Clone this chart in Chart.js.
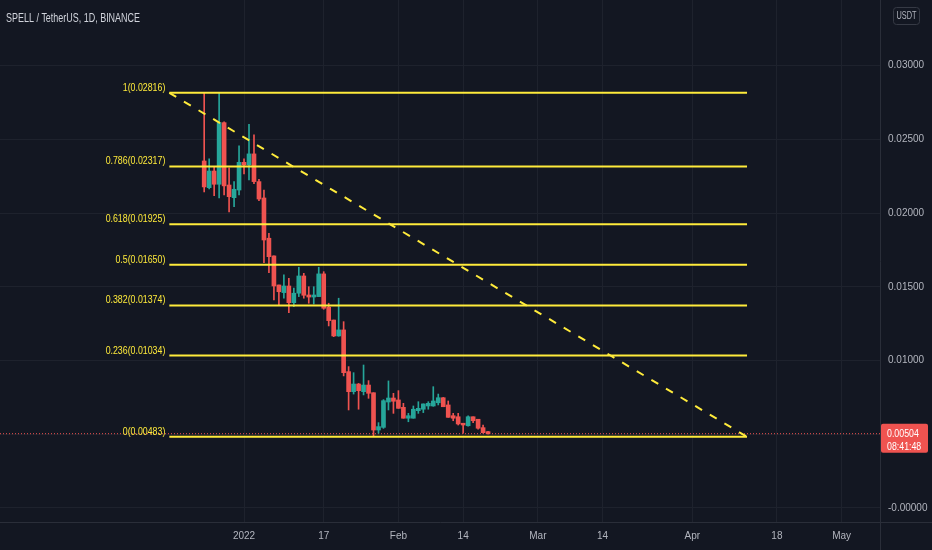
<!DOCTYPE html>
<html>
<head>
<meta charset="utf-8">
<title>SPELL / TetherUS</title>
<script src="https://cdn.jsdelivr.net/npm/chart.js@4.4.0/dist/chart.umd.min.js"></script>
<style>
html, body { margin: 0; padding: 0; background: #131722; }
#wrap { width: 932px; height: 550px; }
</style>
</head>
<body>
<div id="wrap"><canvas id="c" width="932" height="550"></canvas></div>
<script>
// SPELL / TetherUS daily candles (BINANCE), from 24 Dec 2021
var firstDate = '2021-12-24';

var openP  = [0.02354, 0.02173, 0.02286, 0.02196, 0.02614, 0.02191, 0.02105, 0.02157, 0.02345, 0.02327,
              0.02402, 0.02214, 0.02103, 0.01830, 0.01710, 0.01513, 0.01461, 0.01506, 0.01393, 0.01457,
              0.01574, 0.01445, 0.01431, 0.01434, 0.01588, 0.01362, 0.01275, 0.01167, 0.01208, 0.00925,
              0.00789, 0.00841, 0.00789, 0.00834, 0.00782, 0.00529, 0.00547, 0.00719, 0.00746, 0.00733,
              0.00683, 0.00609, 0.00609, 0.00660, 0.00670, 0.00692, 0.00692, 0.00714, 0.00748, 0.00699,
              0.00626, 0.00619, 0.00575, 0.00558, 0.00619, 0.00602, 0.00545, 0.00518];
var highP  = [0.02816, 0.02368, 0.02315, 0.02816, 0.02619, 0.02307, 0.02214, 0.02456, 0.02368, 0.02603,
              0.02531, 0.02230, 0.02157, 0.01864, 0.01710, 0.01513, 0.01581, 0.01558, 0.01491, 0.01633,
              0.01592, 0.01501, 0.01501, 0.01633, 0.01603, 0.01389, 0.01275, 0.01423, 0.01264, 0.00959,
              0.00918, 0.00845, 0.00970, 0.00864, 0.00782, 0.00579, 0.00735, 0.00862, 0.00778, 0.00796,
              0.00710, 0.00642, 0.00692, 0.00721, 0.00706, 0.00721, 0.00823, 0.00773, 0.00750, 0.00726,
              0.00642, 0.00642, 0.00575, 0.00625, 0.00619, 0.00602, 0.00563, 0.00520];
var lowP   = [0.02144, 0.02164, 0.02119, 0.02103, 0.02123, 0.02008, 0.02044, 0.02123, 0.02266, 0.02225,
              0.02200, 0.02085, 0.01664, 0.01596, 0.01411, 0.01377, 0.01423, 0.01325, 0.01366, 0.01434,
              0.01423, 0.01389, 0.01384, 0.01434, 0.01348, 0.01235, 0.01162, 0.01165, 0.00896, 0.00665,
              0.00773, 0.00670, 0.00767, 0.00744, 0.00488, 0.00507, 0.00540, 0.00665, 0.00642, 0.00676,
              0.00609, 0.00585, 0.00609, 0.00642, 0.00647, 0.00670, 0.00690, 0.00699, 0.00687, 0.00615,
              0.00592, 0.00563, 0.00507, 0.00555, 0.00579, 0.00534, 0.00507, 0.00500];
var closeP = [0.02178, 0.02286, 0.02196, 0.02614, 0.02185, 0.02112, 0.02162, 0.02345, 0.02327, 0.02402,
              0.02214, 0.02096, 0.01818, 0.01705, 0.01506, 0.01467, 0.01506, 0.01393, 0.01457, 0.01574,
              0.01443, 0.01431, 0.01445, 0.01588, 0.01355, 0.01271, 0.01167, 0.01208, 0.00918, 0.00789,
              0.00841, 0.00796, 0.00834, 0.00778, 0.00529, 0.00552, 0.00728, 0.00746, 0.00724, 0.00676,
              0.00609, 0.00626, 0.00670, 0.00676, 0.00706, 0.00710, 0.00726, 0.00748, 0.00687, 0.00615,
              0.00609, 0.00570, 0.00563, 0.00619, 0.00592, 0.00541, 0.00511, 0.00504];

// Axe du temps
var tickDates  = ['2022-01-01', '2022-01-17', '2022-02-01', '2022-02-14', '2022-03-01',
                  '2022-03-14', '2022-04-01', '2022-04-18', '2022-05-01'];
var tickLabels = ['2022', '17', 'Feb', '14', 'Mar', '14', 'Apr', '18', 'May'];
var viewStart = '2021-11-13';
var viewEnd   = '2022-05-08';

// Axe des prix
var priceTicks = [0, 0.005, 0.01, 0.015, 0.02, 0.025, 0.03];

// Retracement de Fibonacci
var fibRatios = ['1', '0.786', '0.618', '0.5', '0.382', '0.236', '0'];
var fibValues = [0.02816, 0.02317, 0.01925, 0.01650, 0.01374, 0.01034, 0.00483];
var fibStart  = '2021-12-17';
var fibEnd    = '2022-04-12';

var lastPrice = 0.00504;
var countdown = '08:41:48';

var FONT   = "'Liberation Sans', Arial, sans-serif";
var BG     = '#131722';
var UP     = '#26a69a';
var DOWN   = '#ef5350';
var YELLOW = '#ffeb3b';
var GRID   = '#1e222d';
var AXIS   = '#2a2e39';
var TEXT   = '#b2b5be';

function dayOf(s) {
    return (Date.parse(s + 'T00:00:00Z') - Date.parse('2022-01-01T00:00:00Z')) / 86400000;
}

var day0 = dayOf(firstDate);
var candleDays = openP.map(function (o, i) { return day0 + i; });
var candleColors = openP.map(function (o, i) { return closeP[i] >= o ? UP : DOWN; });
var tickDays = tickDates.map(dayOf);
var xMin = dayOf(viewStart);
var xMax = dayOf(viewEnd) + 0.7;
var fs = dayOf(fibStart), fe = dayOf(fibEnd);

// Texte resserré (police étroite absente)
function narrowText(ctx, txt, x, y, k) {
    ctx.fillText(txt, x, y, ctx.measureText(txt).width * k);
}

var datasets = [];

// Ligne du dernier prix (pointillés)
datasets.push({
    type: 'line',
    data: [{ x: xMin, y: lastPrice }, { x: xMax, y: lastPrice }],
    borderColor: DOWN,
    borderWidth: 1,
    borderDash: [1, 2],
    pointRadius: 0,
    order: 9
});

// Mèches
datasets.push({
    type: 'bar',
    data: candleDays.map(function (d, i) { return { x: d, y: [lowP[i], highP[i]] }; }),
    backgroundColor: candleColors,
    barThickness: 1,
    grouped: false,
    borderWidth: 0,
    order: 8
});

// Corps
datasets.push({
    type: 'bar',
    data: candleDays.map(function (d, i) {
        return { x: d, y: [Math.min(openP[i], closeP[i]), Math.max(openP[i], closeP[i])] };
    }),
    backgroundColor: candleColors,
    barThickness: 4,
    minBarLength: 1,
    grouped: false,
    borderWidth: 0,
    order: 7
});

// Niveaux de Fibonacci
fibValues.forEach(function (v) {
    datasets.push({
        type: 'line',
        data: [{ x: fs, y: v }, { x: fe, y: v }],
        borderColor: YELLOW,
        borderWidth: 2,
        pointRadius: 0,
        order: 1
    });
});

// Tendance en tirets
datasets.push({
    type: 'line',
    data: [{ x: fs, y: fibValues[0] }, { x: fe, y: fibValues[fibValues.length - 1] }],
    borderColor: YELLOW,
    borderWidth: 2,
    borderDash: [8, 9],
    pointRadius: 0,
    order: 0
});

var overlay = {
    id: 'overlay',
    beforeDraw: function (chart) {
        var ctx = chart.ctx;
        ctx.save();
        ctx.fillStyle = BG;
        ctx.fillRect(0, 0, chart.width, chart.height);
        ctx.restore();
    },
    afterDraw: function (chart) {
        var ctx = chart.ctx;
        var xs = chart.scales.x, ys = chart.scales.y;
        var area = chart.chartArea;
        ctx.save();

        // Prolonger les séparateurs des axes
        ctx.strokeStyle = AXIS;
        ctx.lineWidth = 1;
        ctx.beginPath();
        ctx.moveTo(area.right + 0.5, area.bottom);
        ctx.lineTo(area.right + 0.5, chart.height);
        ctx.moveTo(area.right, area.bottom + 0.5);
        ctx.lineTo(chart.width, area.bottom + 0.5);
        ctx.stroke();

        // Titre
        ctx.fillStyle = '#d1d4dc';
        ctx.font = '12px ' + FONT;
        ctx.textAlign = 'left';
        ctx.textBaseline = 'alphabetic';
        ctx.fillText('SPELL / TetherUS, 1D, BINANCE', 6, 22, 134);

        // Étiquettes Fibonacci
        ctx.fillStyle = YELLOW;
        ctx.font = '11px ' + FONT;
        ctx.textAlign = 'right';
        var lx = xs.getPixelForValue(fs) - 4;
        fibRatios.forEach(function (r, i) {
            narrowText(ctx, r + '(' + fibValues[i].toFixed(5) + ')', lx, ys.getPixelForValue(fibValues[i]) - 2, 0.8);
        });

        // Étiquette du dernier prix
        var py = ys.getPixelForValue(lastPrice);
        ctx.fillStyle = DOWN;
        ctx.beginPath();
        ctx.roundRect(area.right + 1, py - 10, 47, 29, 2);
        ctx.fill();
        ctx.fillStyle = '#ffffff';
        ctx.textAlign = 'left';
        ctx.textBaseline = 'middle';
        ctx.font = '11px ' + FONT;
        narrowText(ctx, lastPrice.toFixed(5), area.right + 7, py, 0.8);
        narrowText(ctx, countdown, area.right + 7, py + 13, 0.8);

        // Bouton de devise
        ctx.strokeStyle = '#363a45';
        ctx.beginPath();
        ctx.roundRect(893.5, 7.5, 26, 17, 3);
        ctx.stroke();
        ctx.fillStyle = TEXT;
        ctx.font = '10px ' + FONT;
        ctx.textAlign = 'center';
        ctx.fillText('USDT', 906.5, 16.5, 20);

        ctx.restore();
    }
};

new Chart(document.getElementById('c'), {
    type: 'bar',
    data: { datasets: datasets },
    plugins: [overlay],
    options: {
        responsive: false,
        animation: false,
        devicePixelRatio: 1,
        layout: { padding: 0 },
        plugins: {
            legend: { display: false },
            tooltip: { enabled: false },
            title: { display: false }
        },
        scales: {
            x: {
                type: 'linear',
                min: xMin,
                max: xMax,
                offset: false,
                grid: { color: GRID, offset: false, drawTicks: false },
                border: { color: AXIS },
                afterBuildTicks: function (scale) {
                    scale.ticks = tickDays.map(function (d) { return { value: d }; });
                },
                afterFit: function (scale) {
                    scale.height = 28;
                    scale.paddingLeft = 0;
                    scale.paddingRight = 0;
                },
                ticks: {
                    autoSkip: false,
                    maxRotation: 0,
                    padding: 8,
                    color: TEXT,
                    font: { family: FONT, size: 10 },
                    callback: function (v) {
                        var i = tickDays.indexOf(v);
                        return i >= 0 ? tickLabels[i] : '';
                    }
                }
            },
            y: {
                type: 'linear',
                position: 'right',
                min: -0.00095,
                max: 0.03446,
                grid: { color: GRID, drawTicks: false },
                border: { color: AXIS },
                afterBuildTicks: function (scale) {
                    scale.ticks = priceTicks.map(function (v) { return { value: v }; });
                },
                afterFit: function (scale) {
                    scale.width = 52;
                    scale.paddingTop = 0;
                    scale.paddingBottom = 0;
                },
                ticks: {
                    padding: 8,
                    color: TEXT,
                    font: { family: FONT, size: 10 },
                    callback: function (v) {
                        if (v === 0) return '-0.00000';
                        if (v === 0.005) return '';
                        return v.toFixed(5);
                    }
                }
            }
        }
    }
});
</script>
</body>
</html>
